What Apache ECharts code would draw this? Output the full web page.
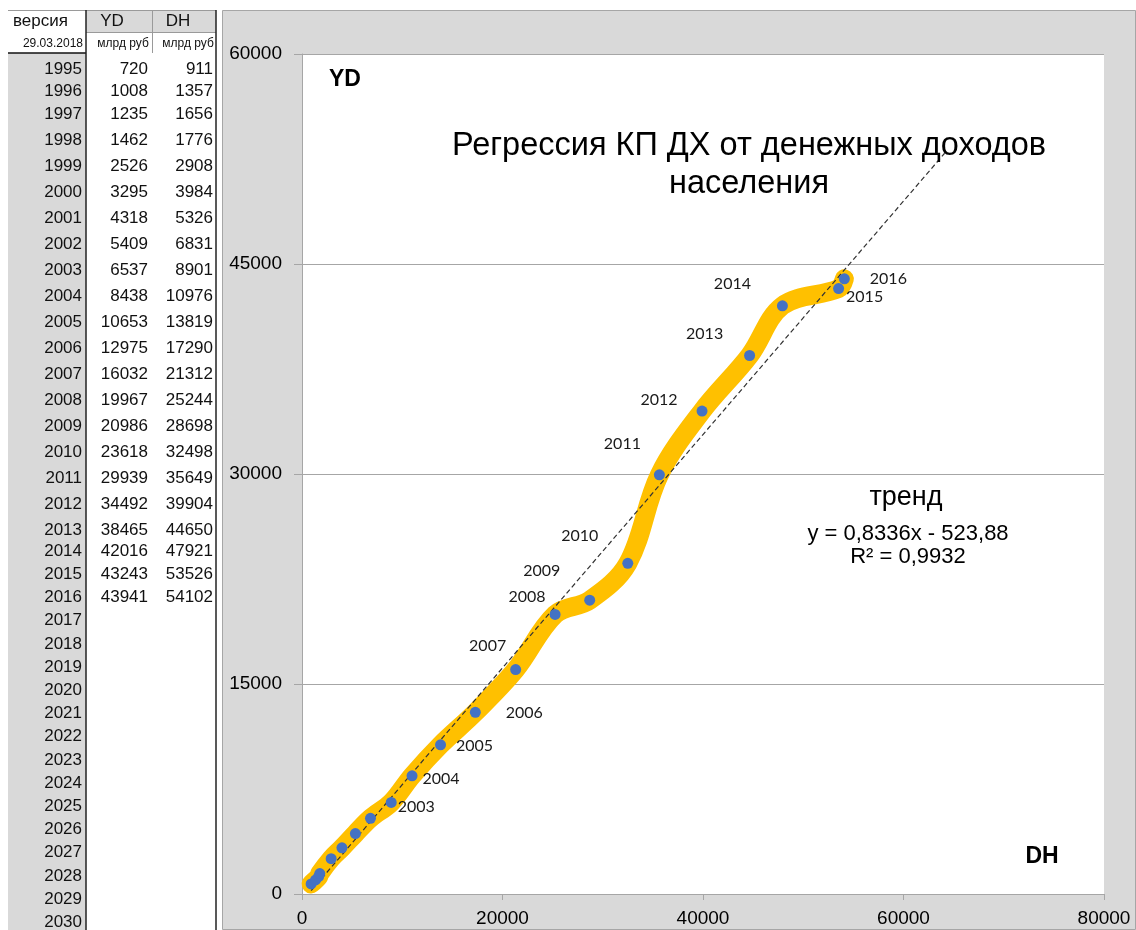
<!DOCTYPE html>
<html>
<head>
<meta charset="utf-8">
<script src="https://cdn.jsdelivr.net/npm/echarts@6/dist/echarts.min.js"></script>
<style>
html, body { margin: 0; padding: 0; background: #fff; }
#main { width: 1136px; height: 930px; }
</style>
</head>
<body>
<div id="main"></div>
<script>
// table / series data
const years = [1995, 1996, 1997, 1998, 1999, 2000, 2001, 2002, 2003, 2004, 2005,
  2006, 2007, 2008, 2009, 2010, 2011, 2012, 2013, 2014, 2015, 2016];
const yd = [720, 1008, 1235, 1462, 2526, 3295, 4318, 5409, 6537, 8438, 10653,
  12975, 16032, 19967, 20986, 23618, 29939, 34492, 38465, 42016, 43243, 43941];
const dh = [911, 1357, 1656, 1776, 2908, 3984, 5326, 6831, 8901, 10976, 13819,
  17290, 21312, 25244, 28698, 32498, 35649, 39904, 44650, 47921, 53526, 54102];
const tableYears = [1995, 1996, 1997, 1998, 1999, 2000, 2001, 2002, 2003, 2004,
  2005, 2006, 2007, 2008, 2009, 2010, 2011, 2012, 2013, 2014, 2015, 2016, 2017,
  2018, 2019, 2020, 2021, 2022, 2023, 2024, 2025, 2026, 2027, 2028, 2029, 2030];
const labeledYears = [2003, 2004, 2005, 2006, 2007, 2008, 2009, 2010, 2011, 2012,
  2013, 2014, 2015, 2016];
const xTicks = [0, 20000, 40000, 60000, 80000];
const yTicks = [0, 15000, 30000, 45000, 60000];
// trend line (Excel linear trendline, forecast forward 10000)
const trendSlope = 0.8336;
const trendIntercept = -523.88;
const trendForward = 10000;
const trendLines = ["y = 0,8336x - 523,88", "R² = 0,9932"];

// label placement (px offsets from the point) - style only
const labelOffsets = {
  2003: [25, 4], 2004: [29, 3], 2005: [34, 1], 2006: [49, 0],
  2007: [-28, -24], 2008: [-28, -18], 2009: [-48, -29], 2010: [-48, -28],
  2011: [-37, -31], 2012: [-43, -11], 2013: [-45, -22], 2014: [-50, -22],
  2015: [26, 8], 2016: [44, 0]
};

const SANS = '"Liberation Sans", Arial, sans-serif';

function rowY(i) {
  if (i === 0) return 69;
  if (i === 1) return 91;
  if (i <= 18) return 114 + 26 * (i - 2);
  return 528 + 23.2 * (i - 18);
}

function txt(text, x, y, size, align, opts) {
  opts = opts || {};
  return {
    type: 'text', x: x, y: y, z: 10, silent: true,
    style: {
      text: text, fill: opts.color || '#111',
      font: (opts.bold ? 'bold ' : '') + size + 'px ' + SANS,
      align: align, verticalAlign: 'middle',
      textAlign: align, textVerticalAlign: 'middle'
    }
  };
}
function line(x1, y1, x2, y2, color, w) {
  return { type: 'line', z: 5, silent: true,
    shape: { x1: x1, y1: y1, x2: x2, y2: y2 },
    style: { stroke: color, lineWidth: w || 1 } };
}
function rect(x, y, w, h, fill, z, stroke) {
  return { type: 'rect', z: z, silent: true,
    shape: { x: x, y: y, width: w, height: h },
    style: { fill: fill, stroke: stroke || null, lineWidth: stroke ? 1 : 0 } };
}

// spreadsheet table on the left
const graphics = [
  rect(222.5, 10.5, 913, 919, '#d9d9d9', -10, '#a6a6a6'),
  rect(302, 54, 802, 840, '#ffffff', -9),
  rect(8, 53, 78, 877, '#d9d9d9', 1),
  rect(86, 10, 66, 22, '#d9d9d9', 1),
  rect(152, 10, 64, 22, '#d9d9d9', 1),
  line(8, 10.5, 216, 10.5, '#9a9a9a'),
  line(86, 32.5, 216, 32.5, '#9a9a9a'),
  line(152.5, 10, 152.5, 53, '#9a9a9a'),
  line(8, 53, 86, 53, '#111', 1.5),
  line(86, 10, 86, 930, '#222', 1.5),
  line(216, 10, 216, 930, '#222', 1.5),
  txt('версия', 13, 21, 17, 'left'),
  txt('YD', 112, 21, 17, 'center'),
  txt('DH', 178, 21, 17, 'center'),
  txt('29.03.2018', 83, 44, 12, 'right'),
  txt('млрд руб', 123, 44, 12, 'center'),
  txt('млрд руб', 188, 44, 12, 'center')
];
tableYears.forEach(function (yr, i) {
  graphics.push(txt(String(yr), 82, rowY(i), 17, 'right'));
  const k = years.indexOf(yr);
  if (k >= 0) {
    graphics.push(txt(String(yd[k]), 148, rowY(i), 17, 'right'));
    graphics.push(txt(String(dh[k]), 213, rowY(i), 17, 'right'));
  }
});

// chart annotations
graphics.push(
  txt('YD', 345, 80, 23, 'center', { bold: true, color: '#000' }),
  txt('DH', 1042, 857, 23, 'center', { bold: true, color: '#000' }),
  txt('Регрессия КП ДХ от денежных доходов', 749, 146, 32.5, 'center', { color: '#000' }),
  txt('населения', 749, 184, 32.5, 'center', { color: '#000' }),
  txt('тренд', 906, 498, 27, 'center', { color: '#000' }),
  txt(trendLines[0], 908, 534, 22, 'center', { color: '#000' }),
  txt(trendLines[1], 908, 557, 22, 'center', { color: '#000' })
);

const points = dh.map(function (x, i) { return [x, yd[i]]; });
const tx0 = Math.min.apply(null, dh);
const tx1 = Math.max.apply(null, dh) + trendForward;
const trendData = [[tx0, trendSlope * tx0 + trendIntercept], [tx1, trendSlope * tx1 + trendIntercept]];

const scatterData = years.map(function (yr, i) {
  const off = labelOffsets[yr];
  return {
    name: String(yr),
    value: [dh[i], yd[i]],
    label: labeledYears.indexOf(yr) >= 0 ? { show: true, offset: off } : { show: false }
  };
});

const axisColor = '#a6a6a6';
const plain = function (v) { return String(v); };
const options = {
  animation: false,
  backgroundColor: '#ffffff',
  grid: { left: 302, top: 54, width: 802, height: 840, containLabel: false },
  xAxis: {
    type: 'value', min: xTicks[0], max: xTicks[xTicks.length - 1],
    interval: xTicks[1] - xTicks[0],
    axisLine: { show: true, lineStyle: { color: axisColor, width: 1 } },
    axisTick: { show: true, length: 6, lineStyle: { color: axisColor } },
    axisLabel: { margin: 15, color: '#000', fontSize: 19, fontFamily: SANS, formatter: plain },
    splitLine: { show: false }
  },
  yAxis: {
    type: 'value', min: yTicks[0], max: yTicks[yTicks.length - 1],
    interval: yTicks[1] - yTicks[0],
    axisLine: { show: true, lineStyle: { color: axisColor, width: 1 } },
    axisTick: { show: true, length: 8, lineStyle: { color: axisColor } },
    axisLabel: { margin: 20, color: '#000', fontSize: 19, fontFamily: SANS, formatter: plain },
    splitLine: { show: true, lineStyle: { color: axisColor, width: 1 } }
  },
  graphic: { elements: graphics },
  series: [
    {
      type: 'line', data: points, smooth: 0.35, showSymbol: false, silent: true, z: 2,
      lineStyle: { color: '#FFC000', width: 19, cap: 'round', join: 'round' }
    },
    {
      type: 'line', data: trendData, showSymbol: false, silent: true, z: 3,
      lineStyle: { color: '#333333', width: 1.2, type: [5, 3] }
    },
    {
      type: 'scatter', data: scatterData, symbolSize: 11, silent: true, z: 4,
      itemStyle: { color: '#4472C4', opacity: 1 },
      label: {
        position: 'inside', formatter: '{b}', color: '#1a1a1a',
        fontSize: 16, fontFamily: 'Lato, "Open Sans", sans-serif'
      }
    }
  ]
};

var myChart = echarts.init(document.querySelector('#main'));
myChart.setOption(options);
window.onresize = function () { myChart.resize(); };
</script>
</body>
</html>
